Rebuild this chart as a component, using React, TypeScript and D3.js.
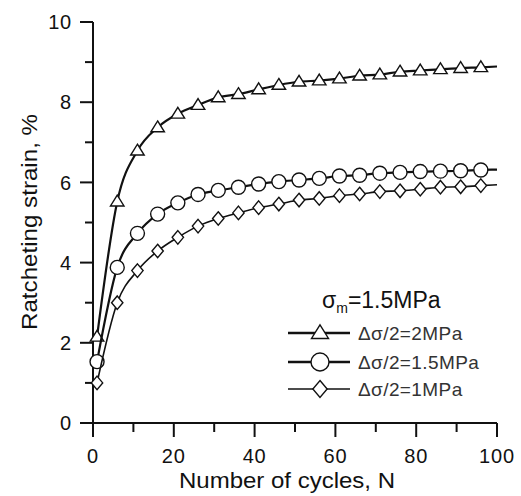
import React from 'react';
import * as d3 from 'd3';

const cycles = [1, 6, 11, 16, 21, 26, 31, 36, 41, 46, 51, 56, 61, 66, 71, 76, 81, 86, 91, 96];
const strain2MPa = [2.15, 5.52, 6.79, 7.37, 7.71, 7.93, 8.12, 8.2, 8.32, 8.43, 8.51, 8.54, 8.59, 8.66, 8.69, 8.76, 8.79, 8.82, 8.85, 8.87];
const strain15MPa = [1.53, 3.88, 4.73, 5.21, 5.49, 5.7, 5.8, 5.88, 5.96, 6.02, 6.06, 6.1, 6.16, 6.18, 6.23, 6.25, 6.27, 6.28, 6.29, 6.31];
const strain1MPa = [1.0, 3.0, 3.8, 4.29, 4.63, 4.91, 5.1, 5.24, 5.37, 5.46, 5.56, 5.6, 5.67, 5.71, 5.77, 5.79, 5.83, 5.88, 5.89, 5.92];
const lineEndCycle = 100;
const lineEndValues = [8.89, 6.32, 5.94];
const seriesLabels = ['Δσ/2=2MPa', 'Δσ/2=1.5MPa', 'Δσ/2=1MPa'];
const markerTypes = ['triangle', 'circle', 'diamond'];
const xTicks = [0, 20, 40, 60, 80, 100];
const xMinorTicks = [10, 30, 50, 70, 90];
const yTicks = [0, 2, 4, 6, 8, 10];
const yMinorTicks = [1, 3, 5, 7, 9];

const FONT = '"Liberation Sans", Arial, Helvetica, sans-serif';

function Marker({ type, x, y, s }: { type: string; x: number; y: number; s: number }) {
  const common = { fill: '#fff', stroke: '#111', strokeWidth: 1.4 };
  if (type === 'circle') return <circle cx={x} cy={y} r={s * 0.5} {...common} />;
  if (type === 'triangle') {
    const h = s * 0.8;
    const w = s;
    return <path d={`M${x},${y - h * 0.6}L${x + w / 2},${y + h * 0.4}L${x - w / 2},${y + h * 0.4}Z`} {...common} />;
  }
  const w = s * 0.42;
  const h = s * 0.5;
  return <path d={`M${x},${y - h}L${x + w},${y}L${x},${y + h}L${x - w},${y}Z`} {...common} />;
}

export default function App() {
  const x = d3.scaleLinear().domain([0, 100]).range([93, 497]);
  const y = d3.scaleLinear().domain([0, 10]).range([423, 22]);
  const allSeries = [strain2MPa, strain15MPa, strain1MPa];
  const lineWidths = [2.2, 2.2, 1.6];
  const line = d3
    .line<[number, number]>()
    .x((d) => x(d[0]))
    .y((d) => y(d[1]))
    .curve(d3.curveMonotoneX);

  const legendRows = [333, 362, 389];

  return (
    <svg width={521} height={496} style={{ position: 'absolute', left: 0, top: 0, background: '#fff' }} fontFamily={FONT}>
      <rect x={0} y={0} width={521} height={496} fill="#fff" />
      {/* axes */}
      <line x1={x(0)} x2={x(100)} y1={y(0)} y2={y(0)} stroke="#111" strokeWidth={2} />
      <line x1={x(0)} x2={x(0)} y1={y(0)} y2={y(10)} stroke="#111" strokeWidth={2} />
      {xTicks.map((t) => (
        <g key={'xt' + t}>
          <line x1={x(t)} x2={x(t)} y1={y(0)} y2={y(0) + 14} stroke="#111" strokeWidth={2} />
          <text x={x(t)} y={463} textAnchor="middle" fontSize={20} letterSpacing={0.8} fill="#111">{t}</text>
        </g>
      ))}
      {xMinorTicks.map((t) => (
        <line key={'xm' + t} x1={x(t)} x2={x(t)} y1={y(0)} y2={y(0) + 9} stroke="#111" strokeWidth={2} />
      ))}
      {yTicks.map((t) => (
        <g key={'yt' + t}>
          <line x1={x(0) - 13} x2={x(0)} y1={y(t)} y2={y(t)} stroke="#111" strokeWidth={2} />
          <text x={72} y={y(t)} dy="0.36em" textAnchor="end" fontSize={20} letterSpacing={0.8} fill="#111">{t}</text>
        </g>
      ))}
      {yMinorTicks.map((t) => (
        <line key={'ym' + t} x1={x(0) - 8} x2={x(0)} y1={y(t)} y2={y(t)} stroke="#111" strokeWidth={2} />
      ))}
      <text x={287} y={488} textAnchor="middle" fontSize={22} textLength={216} lengthAdjust="spacingAndGlyphs" fill="#111">Number of cycles, N</text>
      <text transform="translate(37,222) rotate(-90)" textAnchor="middle" fontSize={22} textLength={216} lengthAdjust="spacingAndGlyphs" fill="#111">Ratcheting strain, %</text>

      {/* series */}
      {allSeries.map((vals, i) => {
        const pts: [number, number][] = cycles.map((c, j) => [c, vals[j]]);
        pts.push([lineEndCycle, lineEndValues[i]]);
        return (
          <g key={'s' + i}>
            <path d={line(pts) || ''} fill="none" stroke="#111" strokeWidth={lineWidths[i]} />
            {cycles.map((c, j) => (
              <Marker key={j} type={markerTypes[i]} x={x(c)} y={y(vals[j])} s={markerTypes[i] === 'circle' ? 14 : 13.5} />
            ))}
          </g>
        );
      })}

      {/* legend */}
      <text x={322} y={308} fontSize={23} fill="#111">
        σ<tspan fontSize={14} dy={5}>m</tspan>
        <tspan dy={-5}>=1.5MPa</tspan>
      </text>
      {seriesLabels.map((lab, i) => (
        <g key={'lg' + i}>
          <line x1={288} x2={350} y1={legendRows[i]} y2={legendRows[i]} stroke="#111" strokeWidth={i === 2 ? 1.4 : 2.4} />
          <Marker type={markerTypes[i]} x={320} y={legendRows[i]} s={i === 1 ? 18 : 17} />
          <text x={358} y={legendRows[i] + 7} fontSize={19} letterSpacing={0.4} fill="#333">{lab}</text>
        </g>
      ))}
    </svg>
  );
}
